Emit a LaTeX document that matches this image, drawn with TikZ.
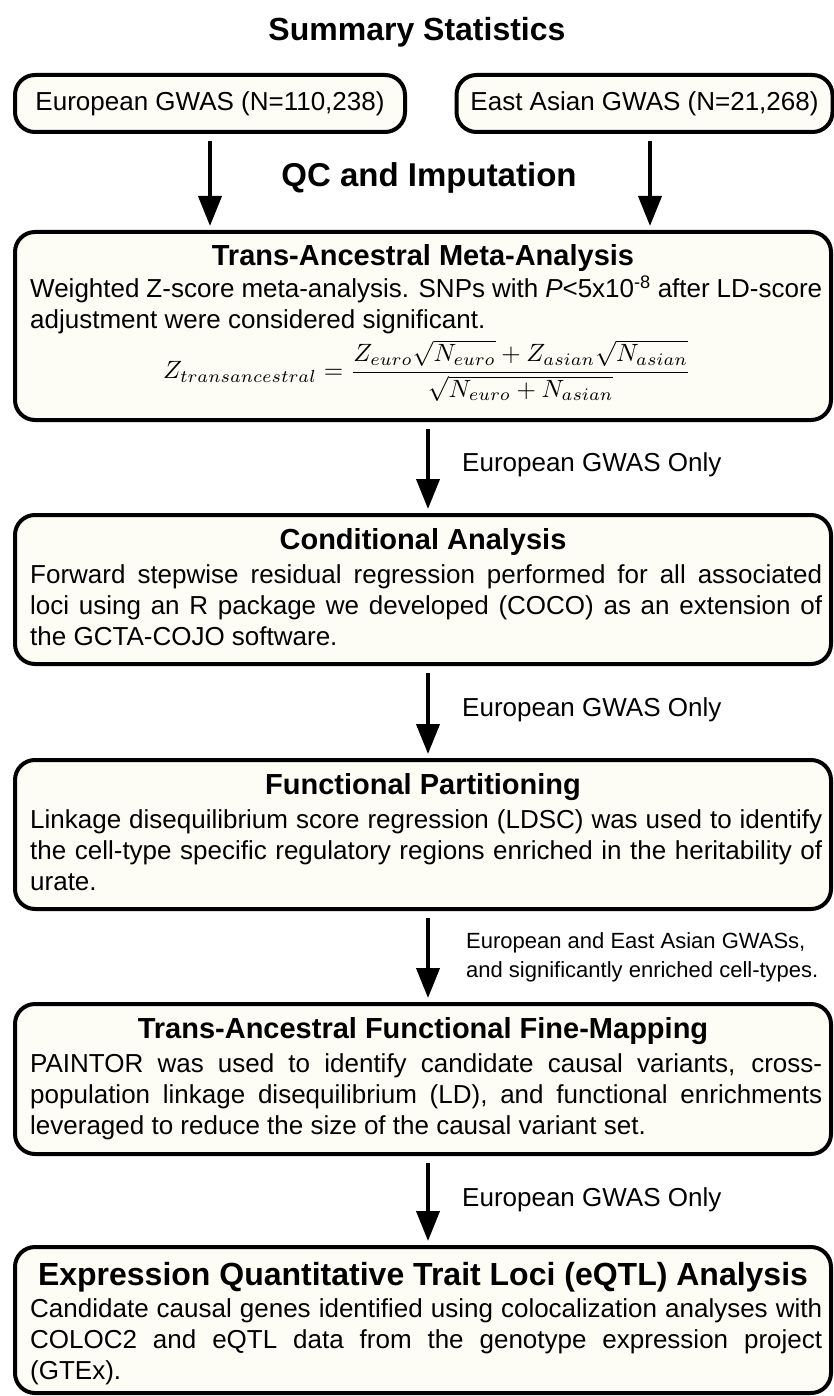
\documentclass[tikz,border=0pt]{standalone}
\usepackage{graphicx}
\usepackage{fontspec}
\setmainfont{Liberation Sans}
\usetikzlibrary{arrows.meta}
\definecolor{boxfill}{RGB}{253,253,246}
\begin{document}
\begin{tikzpicture}[x=1pt,y=-1pt,
  box/.style={draw=black, line width=4pt, fill=boxfill, rounded corners=20pt, inner sep=0pt},
  head/.style={font=\fontsize{32}{38}\selectfont\bfseries, inner sep=0pt},
  ttl/.style={font=\fontsize{29}{34}\selectfont\bfseries, inner sep=0pt},
  txt/.style={font=\fontsize{26}{31}\selectfont, inner sep=0pt},
  lbl/.style={font=\fontsize{26}{31}\selectfont, inner sep=0pt},
  lbls/.style={font=\fontsize{22}{29}\selectfont, inner sep=0pt, align=left},
  arr/.style={line width=4pt, -{Triangle[length=30pt,width=23pt]}, shorten <=7pt, shorten >=4pt}]
\fill[white] (0,0) rectangle (833,1396);
\useasboundingbox (0,0) rectangle (833,1396);
\coordinate (ax) at (428,0);
\coordinate (axr) at (650,0);

\node[head] (hdr) at (417,32) {Summary Statistics};
\node[box, txt, minimum width=390pt, minimum height=57pt] (eu) at (210,103.5) {European GWAS (N=110,238)};
\node[box, txt, minimum width=376pt, minimum height=57pt] (ea) at (644.5,103.5) {East Asian GWAS (N=21,268)};
\node[head, font=\fontsize{33}{38}\selectfont\bfseries] (qc) at (429,178) {QC and Imputation};

% Box 1
\node[box, minimum width=816pt, minimum height=188pt] (b1) at (423,326) {};
\node[ttl] (t1) at (423,258) {Trans-Ancestral Meta-Analysis};
\node[txt, anchor=base west] (p1) at (30,298) {\parbox[t]{792pt}{Weighted Z-score meta-analysis. SNPs with \textit{P}<5x10\textsuperscript{-8} after LD-score\linebreak adjustment were considered significant.}};
\node[inner sep=0pt] (f1) at (427,371) {\scalebox{2.5}{$\displaystyle Z_{transancestral} = \frac{Z_{euro}\sqrt{N_{euro}} + Z_{asian}\sqrt{N_{asian}}}{\sqrt{N_{euro}+N_{asian}}}$}};

% Box 2
\node[box, minimum width=816pt, minimum height=149pt] (b2) at (423,589.5) {};
\node[ttl] (t2) at (423,542) {Conditional Analysis};
\node[txt, anchor=base west] (p2) at (30,583) {\parbox[t]{792pt}{Forward stepwise residual regression performed for all associated\linebreak loci using an R package we developed (COCO) as an extension of\linebreak the GCTA-COJO software.}};

% Box 3
\node[box, minimum width=816pt, minimum height=149pt] (b3) at (423,834.5) {};
\node[ttl] (t3) at (423,787) {Functional Partitioning};
\node[txt, anchor=base west] (p3) at (30,828) {\parbox[t]{792pt}{Linkage disequilibrium score regression (LDSC) was used to identify\linebreak the cell-type specific regulatory regions enriched in the heritability of\linebreak urate.}};

% Box 4
\node[box, minimum width=816pt, minimum height=150pt] (b4) at (423,1079) {};
\node[ttl] (t4) at (423,1031) {Trans-Ancestral Functional Fine-Mapping};
\node[txt, anchor=base west] (p4) at (30,1072) {\parbox[t]{792pt}{PAINTOR was used to identify candidate causal variants, cross-\linebreak population linkage disequilibrium (LD), and functional enrichments\linebreak leveraged to reduce the size of the causal variant set.}};

% Box 5
\node[box, minimum width=816pt, minimum height=146pt] (b5) at (423,1320) {};
\node[ttl, font=\fontsize{32}{36}\selectfont\bfseries] (t5) at (423,1277) {Expression Quantitative Trait Loci (eQTL) Analysis};
\node[txt, anchor=base west] (p5) at (30,1317) {\parbox[t]{792pt}{Candidate causal genes identified using colocalization analyses with\linebreak COLOC2 and eQTL data from the genotype expression project\linebreak (GTEx).}};

% labels
\node[lbl, anchor=west] (l1) at (462,465) {European GWAS Only};
\node[lbl, anchor=west] (l2) at (462,710) {European GWAS Only};
\node[lbls, anchor=west] (l3) at (466,957) {European and East Asian GWASs,\\and significantly enriched cell-types.};
\node[lbl, anchor=west] (l4) at (462,1200) {European GWAS Only};

% arrows
\draw[arr] (eu.south) -- (eu.south |- b1.north);
\draw[arr] (ea.south -| axr) -- (b1.north -| axr);
\draw[arr] (b1.south -| ax) -- (b2.north -| ax);
\draw[arr] (b2.south -| ax) -- (b3.north -| ax);
\draw[arr] (b3.south -| ax) -- (b4.north -| ax);
\draw[arr] (b4.south -| ax) -- (b5.north -| ax);
\end{tikzpicture}
\end{document}
